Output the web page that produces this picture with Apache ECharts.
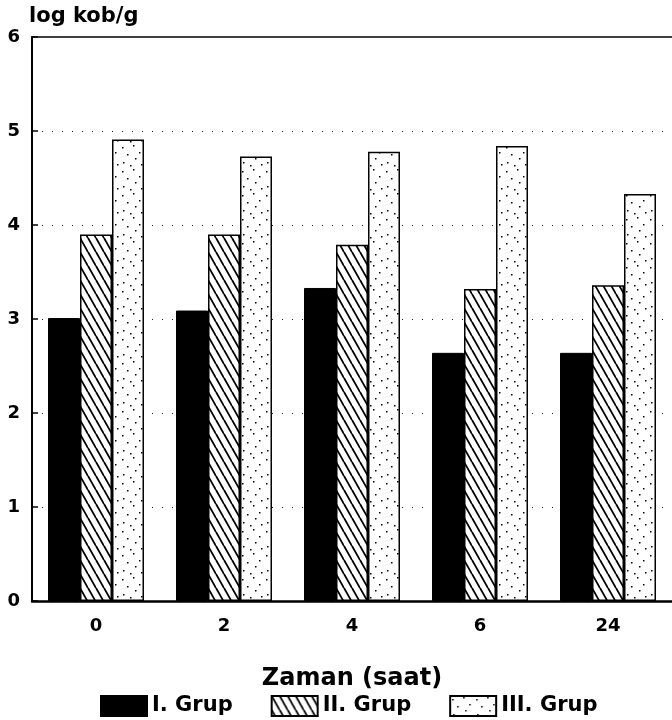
<!DOCTYPE html>
<html>
<head>
<meta charset="utf-8">
<script src="https://cdn.jsdelivr.net/npm/echarts@6/dist/echarts.min.js"></script>
<style>
html,body{margin:0;padding:0;background:#fff;}
#chart{width:672px;height:720px;}
</style>
</head>
<body>
<div id="chart"></div>
<script>
// ---- data ----
const categories = ['0', '2', '4', '6', '24'];
const seriesNames = ['I. Grup', 'II. Grup', 'III. Grup'];
const grup1 = [3.01, 3.09, 3.33, 2.64, 2.64];
const grup2 = [3.90, 3.90, 3.79, 3.32, 3.36];
const grup3 = [4.91, 4.73, 4.78, 4.84, 4.33];
const yTicks = [0, 1, 2, 3, 4, 5, 6];
const yAxisTitle = 'log kob/g';
const xAxisTitle = 'Zaman (saat)';

// ---- patterns ----
function hatchPattern() {
  const c = document.createElement('canvas');
  c.width = 8; c.height = 14;
  const g = c.getContext('2d');
  g.fillStyle = '#fff'; g.fillRect(0, 0, 8, 14);
  g.strokeStyle = '#000'; g.lineWidth = 1.8;
  for (const o of [-8, 0, 8]) {
    g.beginPath(); g.moveTo(o, 0); g.lineTo(o + 8, 14); g.stroke();
  }
  return c;
}
function dotPattern() {
  const c = document.createElement('canvas');
  c.width = 24; c.height = 24;
  const g = c.getContext('2d');
  g.fillStyle = '#fff'; g.fillRect(0, 0, 24, 24);
  g.fillStyle = '#000';
  const pts = [[2,3],[13,1],[19,8],[7,10],[15,14],[3,18],[21,20],[10,21]];
  for (const p of pts) g.fillRect(p[0], p[1], 1.5, 1.5);
  return c;
}

const font = '"DejaVu Sans", "Liberation Sans", Arial, sans-serif';
const chart = echarts.init(document.getElementById('chart'), null, {renderer: 'canvas'});

const barBase = {
  type: 'bar',
  barWidth: '25%',
  barGap: '0%',
  emphasis: {disabled: true}
};

chart.setOption({
  animation: false,
  backgroundColor: '#fff',
  grid: {left: 32, top: 37, width: 643, height: 564, containLabel: false},
  legend: {
    data: seriesNames,
    left: 95, top: 690,
    icon: 'rect',
    itemWidth: 46, itemHeight: 20, itemGap: 38,
    textStyle: {fontFamily: font, fontWeight: 'bold', fontSize: 21, color: '#000'}
  },
  xAxis: [{
    type: 'category',
    data: categories,
    axisLine: {show: true, lineStyle: {color: '#000', width: 2.5}},
    axisTick: {show: false},
    axisLabel: {fontFamily: font, fontWeight: 'bold', fontSize: 18, color: '#000', margin: 16},
    name: xAxisTitle,
    nameLocation: 'middle',
    nameGap: 66,
    nameTextStyle: {fontFamily: font, fontWeight: 'bold', fontSize: 24, color: '#000'},
    splitLine: {show: false}
  }, {
    type: 'category',
    data: categories,
    position: 'top',
    axisLine: {show: true, lineStyle: {color: '#000', width: 1.5}},
    axisTick: {show: false},
    axisLabel: {show: false},
    splitLine: {show: false}
  }],
  yAxis: {
    type: 'value',
    min: yTicks[0], max: yTicks[yTicks.length - 1], interval: 1,
    axisLine: {show: true, lineStyle: {color: '#000', width: 2}},
    axisTick: {show: true, inside: true, length: 6, lineStyle: {color: '#000', width: 1.5}},
    axisLabel: {fontFamily: font, fontWeight: 'bold', fontSize: 18, color: '#000', margin: 12},
    splitLine: {show: true, showMaxLine: false, lineStyle: {color: '#222', width: 1, type: [1, 9]}},
    name: yAxisTitle,
    nameLocation: 'end',
    nameGap: 10,
    nameTextStyle: {fontFamily: font, fontWeight: 'bold', fontSize: 21, color: '#000', align: 'left', padding: [0, 0, 0, -3]}
  },
  series: [
    Object.assign({}, barBase, {
      name: seriesNames[0], data: grup1,
      itemStyle: {color: '#000', borderColor: '#000', borderWidth: 1}
    }),
    Object.assign({}, barBase, {
      name: seriesNames[1], data: grup2,
      itemStyle: {color: {image: hatchPattern(), repeat: 'repeat'}, borderColor: '#000', borderWidth: 1.5}
    }),
    Object.assign({}, barBase, {
      name: seriesNames[2], data: grup3,
      itemStyle: {color: {image: dotPattern(), repeat: 'repeat'}, borderColor: '#000', borderWidth: 1.5}
    })
  ]
});
</script>
</body>
</html>
